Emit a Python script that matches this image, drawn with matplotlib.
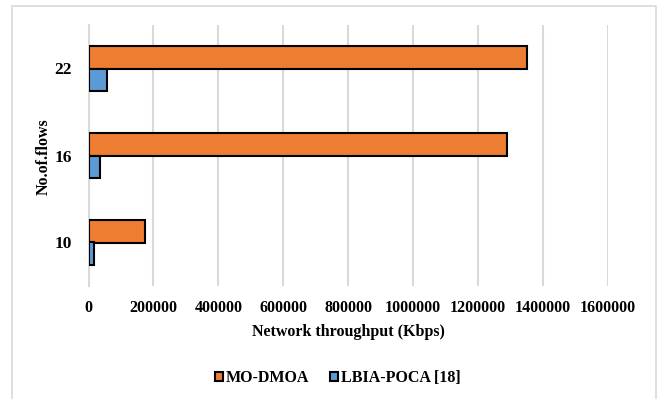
import matplotlib
matplotlib.use("Agg")
import matplotlib.pyplot as plt
from matplotlib.patches import Rectangle
import numpy as np

categories = ["10", "16", "22"]
mo_dmoa = [175000, 1290000, 1350000]
lbia_poca = [18000, 36000, 58000]
x_ticks = [0, 200000, 400000, 600000, 800000, 1000000, 1200000, 1400000, 1600000]

plt.rcParams["font.family"] = ["Liberation Serif", "DejaVu Serif"]
plt.rcParams["font.weight"] = "bold"

W, H = 659, 399
fig = plt.figure(figsize=(W / 100, H / 100), dpi=100)
fig.patch.set_facecolor("white")

# light frame around the chart area
fig.patches.append(Rectangle((12 / W, -0.01), (656 - 12) / W, (H - 6) / H + 0.01,
                             transform=fig.transFigure, fill=False,
                             edgecolor="#D9D9D9", linewidth=1.2))

ax = fig.add_axes([88.5 / W, (H - 286) / H, (608 - 88.5) / W, (286 - 25) / H])

pos = np.arange(len(categories))
h = 0.264
orange = "#ED7D31"
blue = "#5B9BD5"
ax.barh(pos + h / 2, mo_dmoa, height=h, color=orange, edgecolor="black",
        linewidth=1.5, label="MO-DMOA", zorder=3)
ax.barh(pos - h / 2, lbia_poca, height=h, color=blue, edgecolor="black",
        linewidth=1.5, label="LBIA-POCA [18]", zorder=3)

ax.set_xlim(0, 1600000)
ax.set_ylim(-0.5, 2.5)
ax.set_xticks(x_ticks)
ax.set_xticklabels([str(t) for t in x_ticks])
ax.set_yticks(pos)
ax.set_yticklabels(categories)
ax.tick_params(axis="both", length=0, labelsize=11.5)
ax.tick_params(axis="y", labelsize=12.5)
ax.tick_params(axis="x", pad=10)
ax.tick_params(axis="y", pad=12)

ax.grid(axis="x", color="#D9D9D9", linewidth=1.5, zorder=0)
for s in ["top", "right", "bottom"]:
    ax.spines[s].set_visible(False)
ax.spines["left"].set_color("#D9D9D9")
ax.spines["left"].set_linewidth(1.5)

ax.set_xlabel("Network throughput (Kbps)", fontsize=11.5, fontweight="bold", labelpad=6)
fig.text(44 / W, 1 - 157 / H, "No.of.flows", rotation=90, ha="center", va="center",
         fontsize=11.5, fontweight="bold")

leg = fig.legend(loc="center", bbox_to_anchor=(338 / W, 1 - 378 / H), ncol=2,
                 frameon=False, fontsize=11.5, handlelength=0.5, handleheight=0.5,
                 handletextpad=0.2, columnspacing=1.3)

fig.savefig("out.png", dpi=100)
